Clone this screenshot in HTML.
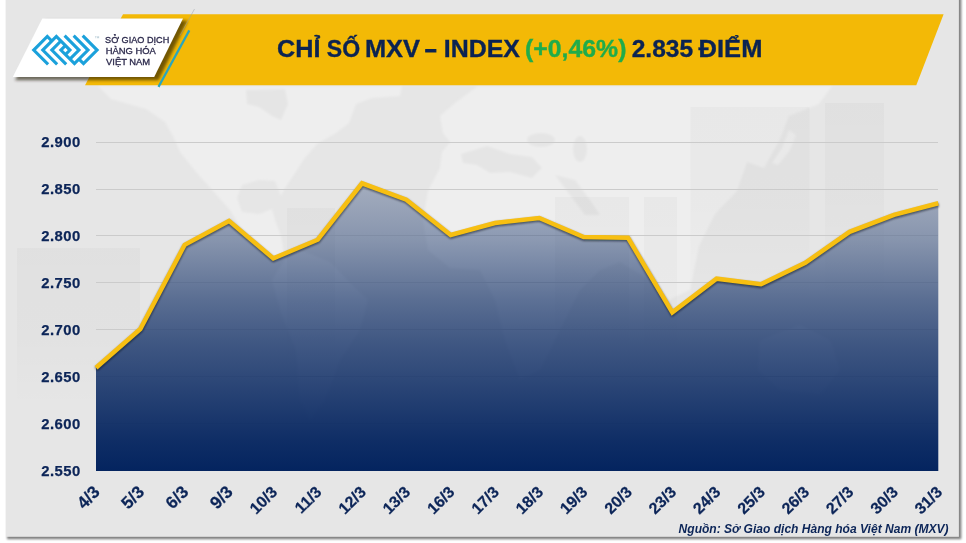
<!DOCTYPE html>
<html lang="vi">
<head>
<meta charset="utf-8">
<title>Chỉ số MXV – Index</title>
<style>
html,body{margin:0;padding:0;background:#fff;}
body{width:966px;height:543px;overflow:hidden;position:relative;font-family:"Liberation Sans",sans-serif;}
svg{position:absolute;left:0;top:0;display:block;}
text{font-family:"Liberation Sans",sans-serif;}
.gs{filter:url(#ident);}
.yl{font-size:14.9px;font-weight:700;fill:#0c2558;letter-spacing:0.45px;stroke:#0c2558;stroke-width:0.25px;}
.xl{font-size:16.8px;font-weight:700;fill:#0c2558;letter-spacing:0px;stroke:#0c2558;stroke-width:0.25px;}
.title{font-size:23.5px;font-weight:700;fill:#0b2352;stroke:#0b2352;stroke-width:0.35px;}
.src{font-size:12.05px;font-weight:700;font-style:italic;fill:#0c2558;}
.logo{font-family:"Liberation Sans",sans-serif;font-size:9.6px;fill:#2c2a4c;stroke:#2c2a4c;stroke-width:0.32px;}
</style>
</head>
<body>
<svg width="966" height="543" viewBox="0 0 966 543">
<defs>
<linearGradient id="fillg" gradientUnits="userSpaceOnUse" x1="0" y1="183" x2="0" y2="471">
<stop offset="0" stop-color="#04245f" stop-opacity="0.29"/>
<stop offset="0.198" stop-color="#04245f" stop-opacity="0.42"/>
<stop offset="0.406" stop-color="#04245f" stop-opacity="0.62"/>
<stop offset="0.545" stop-color="#04245f" stop-opacity="0.73"/>
<stop offset="0.719" stop-color="#04245f" stop-opacity="0.84"/>
<stop offset="0.892" stop-color="#04245f" stop-opacity="0.95"/>
<stop offset="1" stop-color="#04245f" stop-opacity="1"/>
</linearGradient>
<filter id="blur2" x="-20%" y="-20%" width="140%" height="140%"><feGaussianBlur stdDeviation="1.8"/></filter>
<filter id="blur1" x="-20%" y="-20%" width="140%" height="140%"><feGaussianBlur stdDeviation="1"/></filter>
<filter id="blurm" x="-5%" y="-5%" width="110%" height="110%"><feGaussianBlur stdDeviation="1.3"/></filter>
<filter id="ident" x="0" y="0" width="966" height="543" filterUnits="userSpaceOnUse" color-interpolation-filters="sRGB"><feOffset dx="0" dy="0"/></filter>
<linearGradient id="ghostg" x1="0" y1="0" x2="0" y2="1"><stop offset="0" stop-color="#000" stop-opacity="0.025"/><stop offset="0.5" stop-color="#000" stop-opacity="0.02"/><stop offset="1" stop-color="#000" stop-opacity="0"/></linearGradient>
<clipPath id="abovec"><polygon points="96.0,100 96.0,367.7 140.3,329.0 184.7,244.8 229.0,220.9 273.3,258.4 317.7,239.7 362.0,183.3 406.3,199.7 450.7,235.0 495.0,223.0 539.3,218.0 583.6,237.1 628.0,237.8 672.3,312.4 716.6,278.7 761.0,284.3 805.3,262.8 849.6,231.8 894.0,214.9 938.3,203.3 938.3,100"/></clipPath>
<filter id="blur13" x="-5%" y="-5%" width="110%" height="110%"><feGaussianBlur stdDeviation="1.3"/></filter>
</defs>

<!-- page + card -->
<rect x="0" y="0" width="966" height="543" fill="#ffffff"/>
<rect x="7" y="-6" width="954.3" height="545.2" fill="#000" opacity="0.5" filter="url(#blur13)"/>
<rect x="6" y="-1" width="952.9" height="537.8" fill="#e6e6e6"/>

<!-- MAP -->
<g id="map" filter="url(#blurm)">
<!-- North America -->
<polygon fill="#eeeeee" points="98,86 111,99 146,109 165,122 174,138 180,152 196,172 214,192 230,210 242,230 259,246 272,259 285,259 281,236 275,220 272,209 259,214 242,212 237,198 242,185 259,180 275,181 281,196 285,188 297,170 304,159 317,144 336,133 349,123 356,104 372,98 400,96 402,86"/>
<polygon fill="#e5e5e5" points="246,90 285,89 288,104 281,120 272,116 259,107 247,104"/>
<!-- South America (mostly under the fill) -->
<polygon fill="#eeeeee" points="285,259 300,250 330,262 352,285 368,300 360,330 340,360 325,400 310,420 300,400 296,350 280,310 272,280"/>
<!-- Europe / Africa / Asia -->
<polygon fill="#eeeeee" points="478,86 455,103 440,116 443,133 450,142 442,152 440,168 428,191 423,220 428,250 450,268 480,270 495,300 505,340 520,380 540,370 560,330 580,290 600,270 620,262 650,280 668,300 690,290 699,246 715,214 737,191 747,162 764,168 780,139 789,116 819,104 832,86"/>
<polygon fill="#e5e5e5" points="461,154 487,146 510,154 532,157 542,168 532,178 510,172 490,173 477,165 463,163"/>
<ellipse cx="541" cy="140" rx="14" ry="7" fill="#e5e5e5"/>
<ellipse cx="580" cy="149" rx="7" ry="13" fill="#e5e5e5"/>
<polygon fill="#e5e5e5" points="555,175 575,180 590,200 600,215 585,215 570,195"/>
<!-- Japan -->
<polygon fill="#eeeeee" points="789,130 796,135 790,150 778,165 772,163 782,148"/>
<!-- Australia (under fill) -->
<polygon fill="#eeeeee" points="760,340 800,325 830,340 840,370 820,395 780,390 758,370"/>
</g>

<!-- faint ghost bars -->
<g fill="url(#ghostg)">
<rect x="17" y="248" width="123" height="160"/>
<rect x="287" y="208" width="48" height="160"/>
<rect x="555" y="197" width="74" height="160"/>
<rect x="644" y="197" width="33" height="160"/>
<rect x="690.5" y="107" width="119" height="200"/>
<rect x="825" y="103" width="59" height="200"/>
</g>
<!-- banner -->
<polygon points="123,14.3 943.6,14.3 916.3,85.2 85,85.2" fill="#f3b906"/>
<!-- shadow of logo plate -->
<polygon points="45,20.5 187.5,20.5 158.5,80.3 15,80.3" fill="#1e1600" opacity="0.6" filter="url(#blur2)"/>
<polygon points="42.3,18.5 183,18.5 154.2,77 12.8,77" fill="#ffffff"/>
<line x1="189.3" y1="30.4" x2="158.5" y2="86.9" stroke="#2aa5bd" stroke-width="2.2"/>
<line x1="194.5" y1="9" x2="180" y2="35.6" stroke="#9aa0a8" stroke-width="0.7" opacity="0.7"/>

<!-- LOGO -->
<g id="logo" transform="translate(65.4,50.05)" fill="none" stroke="#1ba1db" stroke-width="3.1" stroke-linejoin="miter" stroke-miterlimit="10" stroke-linecap="butt">
<polyline points="0,4.525 4.525,0 -9.05,-13.575 -22.625,0 -8.25,14.375"/>
<polyline points="0,-4.525 -4.525,0 9.05,13.575 22.625,0 8.25,-14.375"/>
<polyline points="-4.525,-9.05 -13.575,0 0.8,14.375"/>
<polyline points="4.525,9.05 13.575,0 -0.8,-14.375"/>
<polyline points="-13.575,-9.05 -18.1,-13.575 -31.675,0 -17.3,14.375"/>
<polyline points="13.575,9.05 18.1,13.575 31.675,0 17.3,-14.375"/>
</g>
<g class="gs">
<text class="logo" x="105.1" y="43.3" textLength="64.2" lengthAdjust="spacingAndGlyphs">SỞ GIAO DỊCH</text>
<text class="logo" x="105.7" y="53.9" textLength="50.2" lengthAdjust="spacingAndGlyphs">HÀNG HÓA</text>
<text class="logo" x="106" y="64.5" textLength="44.2" lengthAdjust="spacingAndGlyphs">VIỆT NAM</text>
<text x="94.4" y="40.3" font-size="5.2" fill="#9bb8c6">™</text>

<!-- title -->
<text class="title" y="56.8"><tspan x="277.1" textLength="43.4" lengthAdjust="spacingAndGlyphs">CHỈ</tspan> <tspan x="326.8" textLength="33.3" lengthAdjust="spacingAndGlyphs">SỐ</tspan> <tspan x="364.9" textLength="55.1" lengthAdjust="spacingAndGlyphs">MXV</tspan> <tspan x="425.1" textLength="11.6" lengthAdjust="spacingAndGlyphs" style="stroke-width:1px">–</tspan> <tspan x="443.8" textLength="76.1" lengthAdjust="spacingAndGlyphs">INDEX</tspan> <tspan x="525.0" textLength="101.4" lengthAdjust="spacingAndGlyphs" style="fill:#20ac4b;stroke:#20ac4b">(+0,46%)</tspan> <tspan x="631.7" textLength="61.4" lengthAdjust="spacingAndGlyphs">2.835</tspan> <tspan x="698.6" textLength="63.8" lengthAdjust="spacingAndGlyphs">ĐIỂM</tspan></text>

</g>
<!-- grid -->
<rect x="96" y="142" width="842" height="1" fill="#d6d6d6"/>
<rect x="96" y="189" width="842" height="1" fill="#d6d6d6"/>
<rect x="96" y="235" width="842" height="1" fill="#d6d6d6"/>
<rect x="96" y="282" width="842" height="1" fill="#d6d6d6"/>
<rect x="96" y="329" width="842" height="1" fill="#d6d6d6"/>
<rect x="96" y="376" width="842" height="1" fill="#d6d6d6"/>
<rect x="96" y="423" width="842" height="1" fill="#d6d6d6"/>
<rect x="96" y="470" width="842" height="1" fill="#d6d6d6"/>

<!-- area + line -->
<polygon points="96.0,471.0 96.0,367.7 140.3,329.0 184.7,244.8 229.0,220.9 273.3,258.4 317.7,239.7 362.0,183.3 406.3,199.7 450.7,235.0 495.0,223.0 539.3,218.0 583.6,237.1 628.0,237.8 672.3,312.4 716.6,278.7 761.0,284.3 805.3,262.8 849.6,231.8 894.0,214.9 938.3,203.3 938.3,471.0" fill="url(#fillg)"/>


<g clip-path="url(#abovec)">
<rect x="96" y="142" width="842" height="1" fill="#cbcbcb"/>
<rect x="96" y="189" width="842" height="1" fill="#cbcbcb"/>
<rect x="96" y="235" width="842" height="1" fill="#cbcbcb"/>
<rect x="96" y="282" width="842" height="1" fill="#cbcbcb"/>
<rect x="96" y="329" width="842" height="1" fill="#cbcbcb"/>
<rect x="96" y="376" width="842" height="1" fill="#cbcbcb"/>
<rect x="96" y="423" width="842" height="1" fill="#cbcbcb"/>
<rect x="96" y="470" width="842" height="1" fill="#cbcbcb"/>
</g>
<polyline points="96.0,367.7 140.3,329.0 184.7,244.8 229.0,220.9 273.3,258.4 317.7,239.7 362.0,183.3 406.3,199.7 450.7,235.0 495.0,223.0 539.3,218.0 583.6,237.1 628.0,237.8 672.3,312.4 716.6,278.7 761.0,284.3 805.3,262.8 849.6,231.8 894.0,214.9 938.3,203.3" fill="none" stroke="#0a0f1a" stroke-opacity="0.6" stroke-width="4.5" stroke-linejoin="miter" transform="translate(0.2,1.3)" filter="url(#blur1)"/>
<polyline points="96.0,367.7 140.3,329.0 184.7,244.8 229.0,220.9 273.3,258.4 317.7,239.7 362.0,183.3 406.3,199.7 450.7,235.0 495.0,223.0 539.3,218.0 583.6,237.1 628.0,237.8 672.3,312.4 716.6,278.7 761.0,284.3 805.3,262.8 849.6,231.8 894.0,214.9 938.3,203.3" fill="none" stroke="#f7bf12" stroke-width="4.5" stroke-linejoin="miter"/>
<!-- axis labels -->
<g class="gs">
<text x="41.2" y="147.3" class="yl" textLength="39.4" lengthAdjust="spacingAndGlyphs">2.900</text>
<text x="41.2" y="194.2" class="yl" textLength="39.4" lengthAdjust="spacingAndGlyphs">2.850</text>
<text x="41.2" y="241.2" class="yl" textLength="39.4" lengthAdjust="spacingAndGlyphs">2.800</text>
<text x="41.2" y="288.1" class="yl" textLength="39.4" lengthAdjust="spacingAndGlyphs">2.750</text>
<text x="41.2" y="335.0" class="yl" textLength="39.4" lengthAdjust="spacingAndGlyphs">2.700</text>
<text x="41.2" y="381.9" class="yl" textLength="39.4" lengthAdjust="spacingAndGlyphs">2.650</text>
<text x="41.2" y="428.9" class="yl" textLength="39.4" lengthAdjust="spacingAndGlyphs">2.600</text>
<text x="41.2" y="475.8" class="yl" textLength="39.4" lengthAdjust="spacingAndGlyphs">2.550</text>
<text transform="translate(100.9,493.0) rotate(-45)" class="xl" style="font-size:17.3px" text-anchor="end">4/3</text>
<text transform="translate(145.2,493.0) rotate(-45)" class="xl" style="font-size:17.3px" text-anchor="end">5/3</text>
<text transform="translate(189.6,493.0) rotate(-45)" class="xl" style="font-size:17.3px" text-anchor="end">6/3</text>
<text transform="translate(233.9,493.0) rotate(-45)" class="xl" style="font-size:17.3px" text-anchor="end">9/3</text>
<text transform="translate(278.2,493.0) rotate(-45)" class="xl" style="font-size:15.9px" text-anchor="end">10/3</text>
<text transform="translate(322.6,493.0) rotate(-45)" class="xl" style="font-size:15.9px" text-anchor="end">11/3</text>
<text transform="translate(366.9,493.0) rotate(-45)" class="xl" style="font-size:15.9px" text-anchor="end">12/3</text>
<text transform="translate(411.2,493.0) rotate(-45)" class="xl" style="font-size:15.9px" text-anchor="end">13/3</text>
<text transform="translate(455.6,493.0) rotate(-45)" class="xl" style="font-size:15.9px" text-anchor="end">16/3</text>
<text transform="translate(499.9,493.0) rotate(-45)" class="xl" style="font-size:15.9px" text-anchor="end">17/3</text>
<text transform="translate(544.2,493.0) rotate(-45)" class="xl" style="font-size:15.9px" text-anchor="end">18/3</text>
<text transform="translate(588.5,493.0) rotate(-45)" class="xl" style="font-size:15.9px" text-anchor="end">19/3</text>
<text transform="translate(632.9,493.0) rotate(-45)" class="xl" style="font-size:15.9px" text-anchor="end">20/3</text>
<text transform="translate(677.2,493.0) rotate(-45)" class="xl" style="font-size:15.9px" text-anchor="end">23/3</text>
<text transform="translate(721.5,493.0) rotate(-45)" class="xl" style="font-size:15.9px" text-anchor="end">24/3</text>
<text transform="translate(765.9,493.0) rotate(-45)" class="xl" style="font-size:15.9px" text-anchor="end">25/3</text>
<text transform="translate(810.2,493.0) rotate(-45)" class="xl" style="font-size:15.9px" text-anchor="end">26/3</text>
<text transform="translate(854.5,493.0) rotate(-45)" class="xl" style="font-size:15.9px" text-anchor="end">27/3</text>
<text transform="translate(898.9,493.0) rotate(-45)" class="xl" style="font-size:15.9px" text-anchor="end">30/3</text>
<text transform="translate(943.2,493.0) rotate(-45)" class="xl" style="font-size:15.9px" text-anchor="end">31/3</text>

<text class="src" x="678.6" y="533">Nguồn: Sở Giao dịch Hàng hóa Việt Nam (MXV)</text>
</g>
</svg>
</body>
</html>
